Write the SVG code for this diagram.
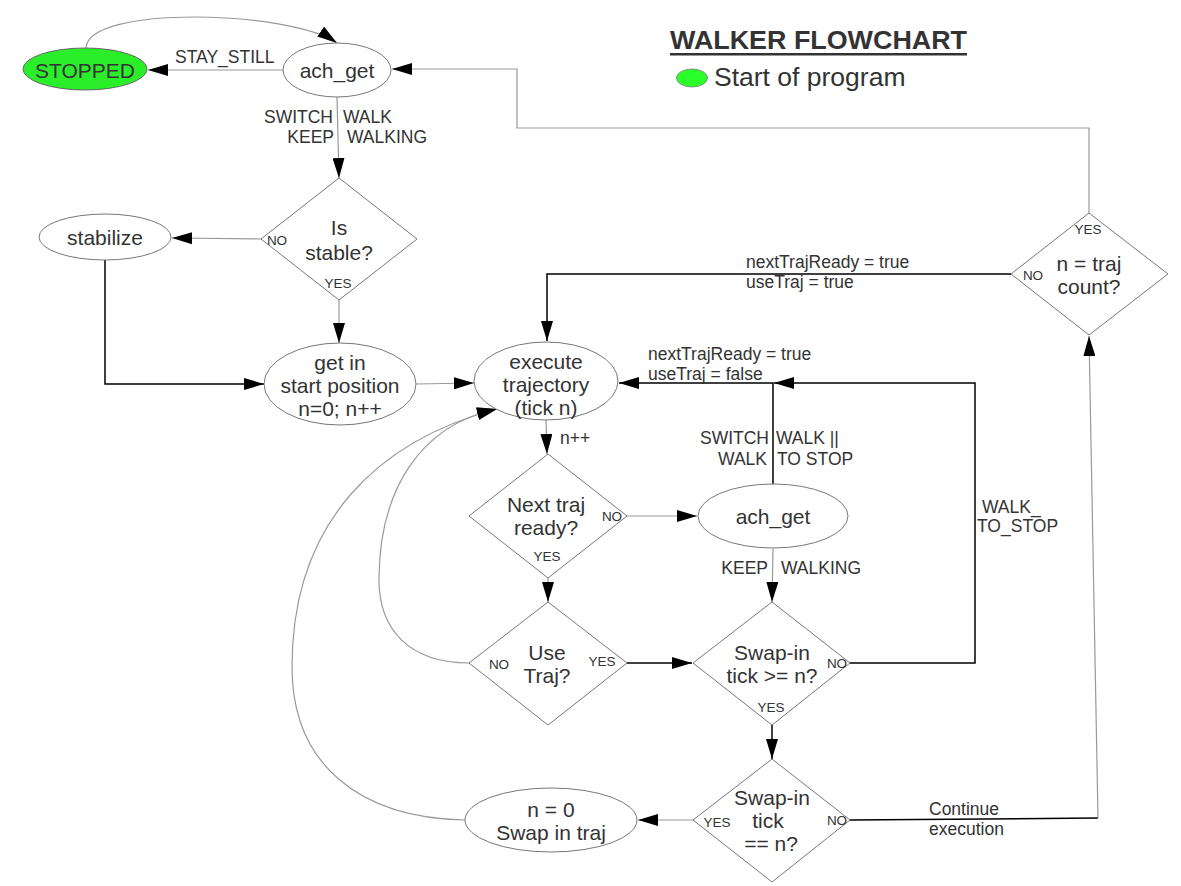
<svg xmlns="http://www.w3.org/2000/svg" width="1181" height="886" viewBox="0 0 1181 886">
<defs>
<marker id="ah" markerUnits="userSpaceOnUse" markerWidth="20" markerHeight="12" refX="20" refY="6" orient="auto">
<path d="M0,0 L20,6 L0,12 z" fill="#000"/>
</marker>
<style>
text{font-family:"Liberation Sans",Arial,sans-serif;fill:#333;dominant-baseline:central}
.n{font-size:21px;text-anchor:middle}
.e{font-size:17.5px}
.s{font-size:13.5px;text-anchor:middle}
.end{text-anchor:end}
.shape{fill:#fff;stroke:#777;stroke-width:1}
.g{fill:none;stroke:#999;stroke-width:1.2}
.b{fill:none;stroke:#000;stroke-width:1.5}
</style>
</defs>
<rect width="1181" height="886" fill="#fff"/>

<g id="title">
<text x="670" y="40" style="font-size:25px;font-weight:bold;text-decoration:underline" textLength="297" lengthAdjust="spacingAndGlyphs">WALKER FLOWCHART</text>
<ellipse cx="692" cy="78" rx="15.5" ry="9" fill="#2bff2b" stroke="#777" stroke-width="0.8"/>
<text x="714" y="77" style="font-size:26.5px">Start of program</text>
</g>

<g id="connectors">
<path class="g" d="M283,70 L148,70" marker-end="url(#ah)"/>
<path class="g" d="M86,48 C88,5 290,10 337,43" marker-end="url(#ah)"/>
<path class="g" d="M1089,213 L1089,128 L517,128 L517,69 L392,69" marker-end="url(#ah)"/>
<path class="g" d="M337,97 L339,178" marker-end="url(#ah)"/>
<path class="g" d="M262,239 L172,238" marker-end="url(#ah)"/>
<path class="g" d="M339,300 L339,343" marker-end="url(#ah)"/>
<path class="b" d="M105,260 L105,384 L264,384" marker-end="url(#ah)"/>
<path class="g" d="M415,384 L474,383" marker-end="url(#ah)"/>
<path class="b" d="M1011,274 L547,274 L547,341" marker-end="url(#ah)"/>
<path class="g" d="M546,420 L547,454" marker-end="url(#ah)"/>
<path class="g" d="M627,516 L697,516" marker-end="url(#ah)"/>
<path class="b" d="M773,484 L773,383 L619,383" marker-end="url(#ah)"/>
<path class="b" d="M850,663 L975,663 L975,383 L774,383" marker-end="url(#ah)"/>
<path class="g" d="M773,549 L772,602" marker-end="url(#ah)"/>
<path class="g" d="M548,578 L548,602" marker-end="url(#ah)"/>
<path class="b" d="M627,663 L692,663" marker-end="url(#ah)"/>
<path class="b" d="M772,725 L772,759" marker-end="url(#ah)"/>
<path class="g" d="M693,820 L638,820" marker-end="url(#ah)"/>
<path class="b" d="M850,820 L1098,818"/>
<path class="g" d="M1098,818 L1089,336" marker-end="url(#ah)"/>
<path class="g" d="M469,663 C410,663 378,630 379,577 C380,490 420,425 497,409" marker-end="url(#ah)"/>
<path class="g" d="M465,820 C360,818 292,765 292,667 C292,520 380,440 497,409" marker-end="url(#ah)"/>
<text class="e" x="175" y="57">STAY_STILL</text>
<text class="e end" x="333" y="117">SWITCH</text>
<text class="e" x="343" y="117">WALK</text>
<text class="e end" x="334" y="137">KEEP</text>
<text class="e" x="347" y="137">WALKING</text>
<text class="e" x="746" y="262">nextTrajReady = true</text>
<text class="e" x="746" y="282">useTraj = true</text>
<text class="e" x="648" y="354">nextTrajReady = true</text>
<text class="e" x="648" y="374">useTraj = false</text>
<text class="e" x="560" y="438">n++</text>
<text class="e end" x="769" y="438">SWITCH</text>
<text class="e" x="776" y="438">WALK ||</text>
<text class="e end" x="767" y="459">WALK</text>
<text class="e" x="777" y="459">TO STOP</text>
<text class="e" x="982" y="507">WALK_</text>
<text class="e" x="977" y="526">TO_STOP</text>
<text class="e end" x="768" y="568">KEEP</text>
<text class="e" x="781" y="568">WALKING</text>
<text class="e" x="929" y="809">Continue</text>
<text class="e" x="929" y="829">execution</text>
</g>

<g id="stopped">
<ellipse cx="85" cy="69" rx="62" ry="21" fill="#2bee2b" stroke="#666" stroke-width="1"/>
<text class="n" x="85" y="70">STOPPED</text>
</g>
<g id="ach_get_top">
<ellipse class="shape" cx="337" cy="70" rx="54" ry="27"/>
<text class="n" x="337" y="70">ach_get</text>
</g>
<g id="is_stable">
<polygon class="shape" points="339,178 417,239 339,300 261,239"/>
<text class="n" x="339" y="227">Is</text>
<text class="n" x="339" y="252">stable?</text>
<text class="s" x="277" y="240">NO</text>
<text class="s" x="338" y="283">YES</text>
</g>
<g id="stabilize">
<ellipse class="shape" cx="105" cy="237" rx="66" ry="23"/>
<text class="n" x="105" y="237">stabilize</text>
</g>
<g id="get_in_start">
<ellipse class="shape" cx="340" cy="384" rx="76" ry="41"/>
<text class="n" x="340" y="362">get in</text>
<text class="n" x="340" y="385">start position</text>
<text class="n" x="340" y="408">n=0; n++</text>
</g>
<g id="execute">
<ellipse class="shape" cx="546" cy="381" rx="72" ry="39"/>
<text class="n" x="546" y="361">execute</text>
<text class="n" x="546" y="384">trajectory</text>
<text class="n" x="546" y="407">(tick n)</text>
</g>
<g id="next_traj">
<polygon class="shape" points="548,454 627,516 548,578 469,516"/>
<text class="n" x="546" y="504">Next traj</text>
<text class="n" x="546" y="527">ready?</text>
<text class="s" x="612" y="516">NO</text>
<text class="s" x="547" y="556">YES</text>
</g>
<g id="ach_get_mid">
<ellipse class="shape" cx="773" cy="516" rx="75" ry="32"/>
<text class="n" x="773" y="516">ach_get</text>
</g>
<g id="use_traj">
<polygon class="shape" points="548,602 627,663 548,725 469,663"/>
<text class="n" x="547" y="652">Use</text>
<text class="n" x="547" y="675">Traj?</text>
<text class="s" x="499" y="664">NO</text>
<text class="s" x="602" y="661">YES</text>
</g>
<g id="swap_ge">
<polygon class="shape" points="772,602 850,663 772,725 693,663"/>
<text class="n" x="772" y="652">Swap-in</text>
<text class="n" x="772" y="675">tick &gt;= n?</text>
<text class="s" x="837" y="663">NO</text>
<text class="s" x="771" y="707">YES</text>
</g>
<g id="swap_eq">
<polygon class="shape" points="772,759 850,820 772,882 693,820"/>
<text class="n" x="772" y="797">Swap-in</text>
<text class="n" x="768" y="820">tick</text>
<text class="n" x="771" y="843">== n?</text>
<text class="s" x="717" y="822">YES</text>
<text class="s" x="837" y="820">NO</text>
</g>
<g id="n_zero">
<ellipse class="shape" cx="551" cy="820" rx="86" ry="32"/>
<text class="n" x="551" y="809">n = 0</text>
<text class="n" x="551" y="832">Swap in traj</text>
</g>
<g id="n_traj_count">
<polygon class="shape" points="1089,213 1168,274 1089,335 1011,274"/>
<text class="n" x="1089" y="263">n = traj</text>
<text class="n" x="1089" y="286">count?</text>
<text class="s" x="1088" y="229">YES</text>
<text class="s" x="1033" y="275">NO</text>
</g>
</svg>
